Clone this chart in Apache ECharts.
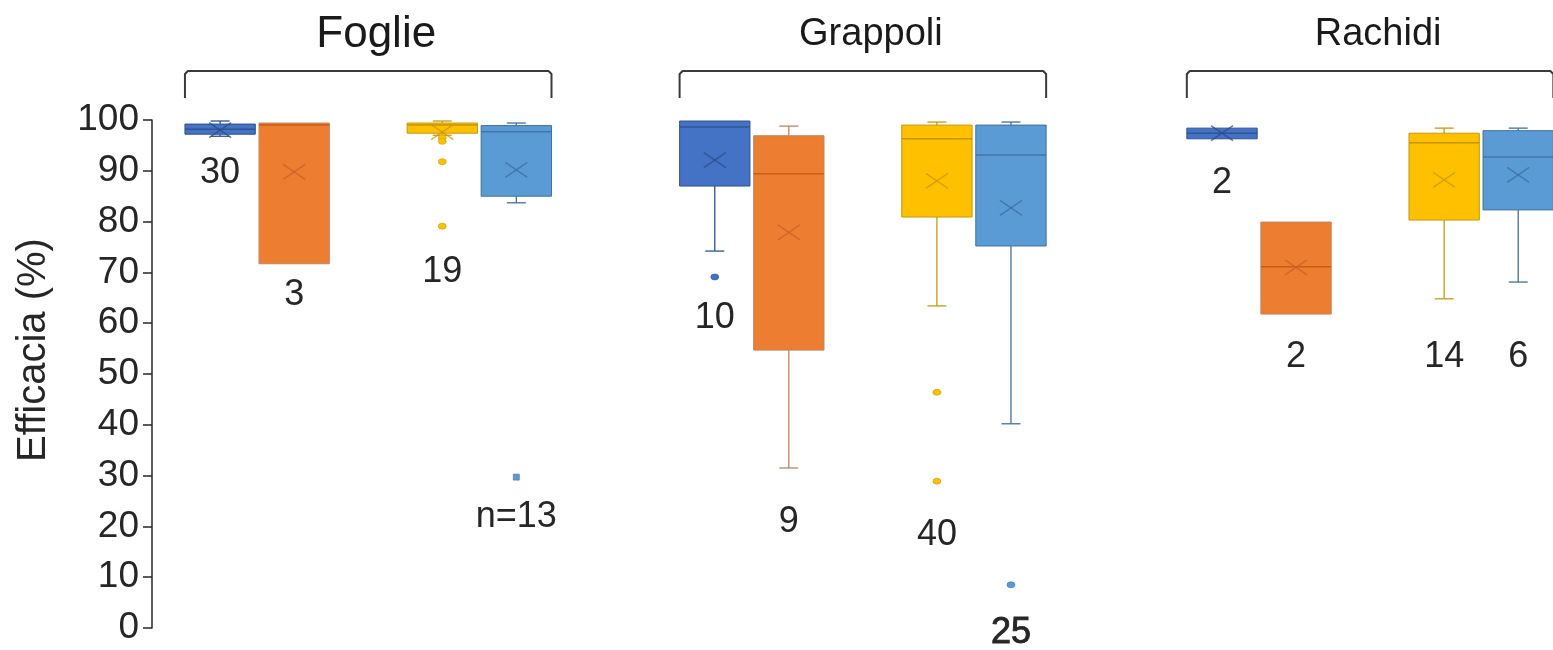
<!DOCTYPE html>
<html>
<head>
<meta charset="utf-8">
<script src="https://cdn.jsdelivr.net/npm/echarts@6/dist/echarts.min.js"></script>
<style>
  html, body { margin: 0; padding: 0; background: #ffffff; }
  #chart { width: 1553px; height: 650px; }
</style>
</head>
<body>
<div id="chart"></div>
<script>
// ---- data ----
const groups = ['Foglie', 'Grappoli', 'Rachidi'];

// [min, Q1, median, Q3, max] per group
const blueBoxes   = [[96.8, 97.2, 98.2, 99.2, 99.8], [74.2, 87.0, 98.6, 99.8, 99.8], [96.3, 96.3, 97.4, 98.4, 98.4]];
const orangeBoxes = [[71.7, 71.7, 99.0, 99.4, 99.4], [31.5, 54.7, 89.4, 96.9, 98.8], [61.8, 61.8, 71.1, 79.9, 79.9]];
const yellowBoxes = [[97.0, 97.4, 99.0, 99.4, 99.8], [63.4, 80.9, 96.3, 99.0, 99.6], [64.8, 80.3, 95.5, 97.4, 98.4]];
const skyBoxes    = [[83.7, 85.0, 97.7, 98.9, 99.4], [40.2, 75.2, 93.1, 99.0, 99.6], [68.1, 82.3, 92.7, 97.9, 98.4]];

// group means (drawn as a cross)
const blueMeans   = [98.0, 92.1, 97.4];
const orangeMeans = [89.8, 77.9, 71.0];
const yellowMeans = [97.6, 88.0, 88.2];
const skyMeans    = [90.2, 82.7, 89.2];

// outlying observations
const blueOutliers   = [[], [69.1], []];
const orangeOutliers = [[], [], []];
const yellowOutliers = [[96.5, 95.8, 91.8, 79.1], [46.4, 28.9], []];
const skyOutliers    = [[29.7], [8.5], []];

// sample sizes
const blueCounts   = ['30', '10', '2'];
const orangeCounts = ['3', '9', '2'];
const yellowCounts = ['19', '40', '14'];
const skyCounts    = ['n=13', '25', '6'];

const boxSets     = [blueBoxes, orangeBoxes, yellowBoxes, skyBoxes];
const meanSets    = [blueMeans, orangeMeans, yellowMeans, skyMeans];
const outlierSets = [blueOutliers, orangeOutliers, yellowOutliers, skyOutliers];
const countSets   = [blueCounts, orangeCounts, yellowCounts, skyCounts];

// ---- layout & style ----
const SLOT = [0, 1, 3, 4];                 // slot of each treatment inside a group
const GROUP_START = [0, 6.68, 13.53];      // first slot of each group on the x scale
const BOX_W = 0.95;                        // box width in slot units
const CAP_PX = 19;
const COUNT_Y = [                          // vertical anchor of the sample-size labels
  [89.6, 61.0, 87.6],
  [65.6, 20.9, 53.3],
  [70.1, 18.3, 53.3],
  [21.9, -1.0, 53.3]
];
const HEAVY_COUNT = { '3-1': true };
const FILL   = ['#4472C4', '#ED7D31', '#FFC000', '#5B9BD5'];
const EDGE   = ['#2F528F', '#C08560', '#C49A10', '#41719C'];
const MEDIAN = ['#2F528F', '#C55A11', '#BF9000', '#41719C'];
const CROSS  = ['#2B4C8C', '#C8602A', '#C99A00', '#3C6EA3'];
const FONT = '"Liberation Sans", Arial, Helvetica, sans-serif';
const INK = '#262626';
const TITLE_SIZE = [44, 38, 38];

function boxRenderer(k) {
  return function (params, api) {
    const x = api.value(0);
    const pMin = api.coord([x, api.value(1)]);
    const cx = pMin[0];
    const yMin = pMin[1];
    const yQ1 = api.coord([x, api.value(2)])[1];
    const yMed = api.coord([x, api.value(3)])[1];
    const yQ3 = api.coord([x, api.value(4)])[1];
    const yMax = api.coord([x, api.value(5)])[1];
    const yMean = api.coord([x, api.value(6)])[1];
    const yLab = api.coord([x, api.value(7)])[1];
    const hw = api.size([BOX_W, 0])[0] / 2;
    const line = (x1, y1, x2, y2, color, w, op) => ({
      type: 'line',
      shape: { x1, y1, x2, y2 },
      style: { stroke: color, lineWidth: w, opacity: op == null ? 1 : op }
    });
    const children = [];
    if (yMin - yQ1 > 0.5) {
      children.push(line(cx, yQ1, cx, yMin, EDGE[k], 1.3));
      children.push(line(cx - CAP_PX / 2, yMin, cx + CAP_PX / 2, yMin, EDGE[k], 1.3));
    }
    if (yQ3 - yMax > 0.5) {
      children.push(line(cx, yQ3, cx, yMax, EDGE[k], 1.3));
      children.push(line(cx - CAP_PX / 2, yMax, cx + CAP_PX / 2, yMax, EDGE[k], 1.3));
    }
    children.push({
      type: 'rect',
      shape: { x: cx - hw, y: yQ3, width: hw * 2, height: Math.max(yQ1 - yQ3, 1) },
      style: { fill: FILL[k], stroke: EDGE[k], lineWidth: 1 }
    });
    children.push(line(cx - hw, yMed, cx + hw, yMed, MEDIAN[k], 1.5, 0.9));
    children.push(line(cx - 11, yMean - 7.5, cx + 11, yMean + 7.5, CROSS[k], 1.5, 0.75));
    children.push(line(cx - 11, yMean + 7.5, cx + 11, yMean - 7.5, CROSS[k], 1.5, 0.75));
    const g = params.dataIndex;
    const heavy = !!HEAVY_COUNT[k + '-' + g];
    children.push({
      type: 'text',
      z2: 10,
      style: {
        text: countSets[k][g],
        x: cx,
        y: yLab,
        align: 'center',
        verticalAlign: 'middle',
        fontFamily: FONT,
        fontSize: 36,
        fill: INK,
        stroke: heavy ? INK : null,
        lineWidth: heavy ? 0.9 : 0
      }
    });
    return { type: 'group', children };
  };
}

const series = [];

// group brackets and titles
series.push({
  type: 'custom',
  coordinateSystem: 'cartesian2d',
  silent: true,
  z: 1,
  data: groups.map((name, g) => [GROUP_START[g], 100]),
  renderItem: function (params, api) {
    const g = params.dataIndex;
    const x0 = api.value(0);
    const hw = api.size([BOX_W, 0])[0] / 2;
    const pTop = api.coord([x0, api.value(1)]);
    const left = pTop[0] - hw;
    const right = api.coord([x0 + 4, 100])[0] + hw;
    const yBar = pTop[1] - 49;
    const yEnd = pTop[1] - 22;
    return {
      type: 'group',
      children: [
        {
          type: 'polyline',
          shape: { points: [[left, yEnd], [left, yBar + 3], [left + 3, yBar], [right - 3, yBar], [right, yBar + 3], [right, yEnd]] },
          style: { stroke: '#3a3a3a', lineWidth: 2, fill: 'none', lineJoin: 'round' }
        },
        {
          type: 'text',
          style: {
            text: groups[g],
            x: (left + right) / 2 + 8,
            y: pTop[1] - 85,
            align: 'center',
            verticalAlign: 'middle',
            fontFamily: FONT,
            fontSize: TITLE_SIZE[g],
            fill: '#1a1a1a'
          }
        }
      ]
    };
  }
});

boxSets.forEach((boxes, k) => {
  series.push({
    type: 'custom',
    coordinateSystem: 'cartesian2d',
    silent: true,
    z: 2,
    data: boxes.map((b, g) => [GROUP_START[g] + SLOT[k]].concat(b, [meanSets[k][g], COUNT_Y[k][g]])),
    encode: { x: 0, y: [1, 2, 3, 4, 5] },
    renderItem: boxRenderer(k)
  });
  const pts = [];
  outlierSets[k].forEach((vals, g) => {
    vals.forEach((v) => {
      const item = { value: [GROUP_START[g] + SLOT[k], v] };
      if (k === 3 && g === 0) { item.symbol = 'rect'; item.symbolSize = 6; }
      pts.push(item);
    });
  });
  series.push({
    type: 'scatter',
    silent: true,
    z: 3,
    symbol: 'circle',
    symbolSize: [8, 6],
    itemStyle: { color: FILL[k], borderColor: EDGE[k], borderWidth: 0.6, opacity: 1 },
    data: pts
  });
});

const chart = echarts.init(document.getElementById('chart'), null, { renderer: 'canvas' });
chart.setOption({
  animation: false,
  backgroundColor: '#ffffff',
  grid: { left: 152, right: 0, top: 120, bottom: 22, containLabel: false, outerBoundsMode: 'none' },
  xAxis: { type: 'value', min: -0.92, max: 18.0, show: false },
  yAxis: {
    type: 'value',
    min: 0,
    max: 100,
    interval: 10,
    axisLine: { show: true, onZero: false, lineStyle: { color: INK, width: 1.5 } },
    axisTick: { show: true, length: 9, lineStyle: { color: INK, width: 1.5 } },
    splitLine: { show: false },
    axisLabel: { fontSize: 37, color: INK, margin: 13, fontFamily: FONT },
    name: 'Efficacia (%)',
    nameLocation: 'middle',
    nameRotate: 90,
    nameGap: 98,
    nameTextStyle: { fontSize: 40, color: INK, fontFamily: FONT, padding: [0, 0, 0, 48] }
  },
  series: series
});
</script>
</body>
</html>
